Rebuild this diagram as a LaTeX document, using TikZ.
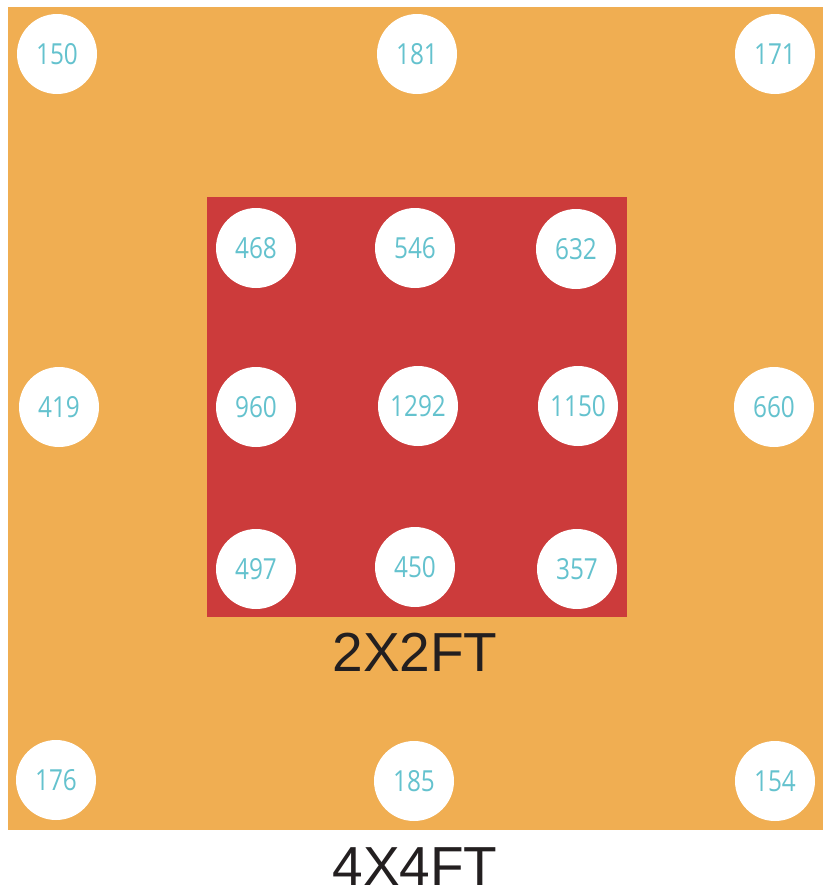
\documentclass[tikz,border=0pt]{standalone}
\usepackage{fontspec}
\usepackage{xcolor}
\usepackage{tikz}
\usetikzlibrary{positioning}

\newfontfamily\numfont[FakeStretch=0.84]{Open Sans}
\newfontfamily\sizefont{Liberation Sans}

\definecolor{boardorange}{RGB}{240,174,82}
\definecolor{boardred}{RGB}{204,59,59}
\definecolor{readteal}{RGB}{100,194,206}
\definecolor{labeldark}{RGB}{35,31,32}

\begin{document}
\begin{tikzpicture}[
    x=1pt, y=-1pt,
    spot/.style={circle, fill=white, minimum size=80pt, inner sep=0pt, text=readteal, font=\numfont\fontsize{29}{29}\selectfont},
    sizelbl/.style={anchor=base, text=labeldark, font=\sizefont\fontsize{55}{55}\selectfont, inner sep=0pt}
]
\useasboundingbox (0,0) rectangle (823,892);

% ============================================================
% 1. BOARDS
% ============================================================
\fill[boardorange] (8,7) rectangle (823,830);
\fill[boardred] (207,197) rectangle (627,617);

% ============================================================
% 2. OUTER 4X4 READINGS
% ============================================================
\node[spot] (o150) at (57,54)  {150};
\node[spot] (o181) at (417,54) {181};
\node[spot] (o171) at (775,54) {171};
\node[spot] (o419) at (59,407)  {419};
\node[spot] (o660) at (774,407) {660};
\node[spot] (o176) at (56,780)  {176};
\node[spot] (o185) at (414,781) {185};
\node[spot] (o154) at (775,781) {154};

% ============================================================
% 3. INNER 2X2 READINGS
% ============================================================
\node[spot] (i468)  at (256,248) {468};
\node[spot] (i546)  at (415,248) {546};
\node[spot] (i632)  at (576,249) {632};
\node[spot] (i960)  at (256,407) {960};
\node[spot] (i1292) at (418,406) {1292};
\node[spot] (i1150) at (578,406) {1150};
\node[spot] (i497)  at (256,569) {497};
\node[spot] (i450)  at (415,567) {450};
\node[spot] (i357)  at (577,569) {357};

% ============================================================
% 4. SIZE LABELS
% ============================================================
\node[sizelbl] (small) at (415,671) {2X2FT};
\node[sizelbl] (large) at (415,885) {4X4FT};

\end{tikzpicture}
\end{document}
